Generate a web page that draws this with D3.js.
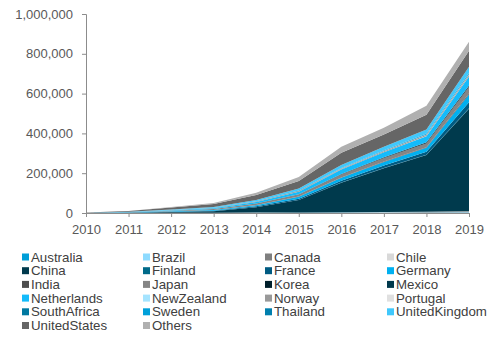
<!DOCTYPE html>
<html>
<head>
<meta charset="utf-8">
<script src="https://cdn.jsdelivr.net/npm/d3@7"></script>
<style>
  body { margin: 0; background: #fff; }
  text { font-family: "Liberation Sans", Arial, sans-serif; }
</style>
</head>
<body>
<script>
var years = [2010, 2011, 2012, 2013, 2014, 2015, 2016, 2017, 2018, 2019];
var yTicks = [0, 200000, 400000, 600000, 800000, 1000000];

// values per country, same order as years
var australia     = [0, 50, 150, 300, 500, 700, 900, 1100, 1300, 1500];
var brazil        = [0, 50, 150, 300, 500, 800, 1000, 1300, 1700, 2000];
var canada        = [50, 150, 300, 400, 700, 1000, 1400, 1800, 2200, 3500];
var chile         = [0, 50, 200, 200, 300, 500, 700, 800, 800, 2000];
var china         = [200, 1000, 4000, 8000, 27000, 62000, 148000, 220000, 285000, 515000];
var finland       = [0, 20, 100, 100, 300, 500, 1000, 1500, 2000, 3000];
var france        = [100, 500, 1500, 2500, 4000, 6000, 9000, 12000, 15000, 30000];
var germany       = [100, 500, 2000, 3500, 6000, 10000, 15000, 18000, 20000, 38000];
var india         = [0, 50, 200, 300, 500, 1000, 1500, 2000, 3000, 5000];
var japan         = [500, 1500, 3000, 4000, 7000, 10000, 15000, 18000, 20000, 35000];
var korea         = [0, 50, 200, 300, 500, 1000, 1500, 2000, 3000, 4000];
var mexico        = [0, 20, 100, 200, 300, 500, 1000, 1500, 2000, 2000];
var netherlands   = [100, 500, 2000, 4000, 8000, 13000, 22000, 25000, 30000, 45000];
var newZealand    = [0, 10, 50, 100, 200, 300, 500, 500, 1000, 1000];
var norway        = [50, 200, 500, 1000, 2000, 3000, 4000, 5000, 6000, 8000];
var portugal      = [0, 10, 50, 100, 200, 300, 500, 500, 1000, 2000];
var southAfrica   = [0, 10, 50, 100, 200, 300, 500, 500, 1000, 1000];
var sweden        = [20, 100, 300, 500, 1000, 1500, 2000, 3000, 3000, 5000];
var thailand      = [0, 10, 50, 100, 200, 300, 500, 500, 1000, 2000];
var unitedKingdom = [100, 1000, 3000, 4000, 6000, 10000, 15000, 18000, 20000, 30000];
var unitedStates  = [1000, 4000, 10000, 15000, 25000, 38000, 62000, 62000, 75000, 80000];
var others        = [100, 500, 2000, 5000, 11000, 20000, 30000, 33000, 45000, 45000];

var seriesNames = ["Australia", "Brazil", "Canada", "Chile", "China", "Finland", "France",
  "Germany", "India", "Japan", "Korea", "Mexico", "Netherlands", "NewZealand", "Norway",
  "Portugal", "SouthAfrica", "Sweden", "Thailand", "UnitedKingdom", "UnitedStates", "Others"];
var seriesValues = [australia, brazil, canada, chile, china, finland, france, germany, india,
  japan, korea, mexico, netherlands, newZealand, norway, portugal, southAfrica, sweden,
  thailand, unitedKingdom, unitedStates, others];
var seriesColors = ["#009ed8", "#8edbff", "#7f7f7f", "#d9d9d9", "#003a4d", "#006a89", "#005b82",
  "#00b0f0", "#4d4d4d", "#858585", "#001f2a", "#00394c", "#14bbfb", "#a5e4ff", "#999999",
  "#e0e0e0", "#0078a0", "#00a0da", "#007fae", "#40c8fc", "#666666", "#b0b0b0"];

var w = 497, h = 343;
var plotLeft = 86, plotRight = 469, plotTop = 14, plotBottom = 213;

var table = years.map(function(y, i) {
  var row = { year: y };
  seriesNames.forEach(function(n, k) { row[n] = seriesValues[k][i]; });
  return row;
});

var xScale = d3.scaleLinear().domain([2010, 2019]).range([plotLeft, plotRight]);
var yScale = d3.scaleLinear().domain([0, 1000000]).range([plotBottom, plotTop]);
var color = d3.scaleOrdinal().domain(seriesNames).range(seriesColors);

var stacked = d3.stack().keys(seriesNames)(table);

var area = d3.area()
  .x(function(d) { return xScale(d.data.year); })
  .y0(function(d) { return yScale(d[0]); })
  .y1(function(d) { return yScale(d[1]); });

var svg = d3.select("body").append("svg")
  .attr("width", w)
  .attr("height", h);

svg.append("g").selectAll("path")
  .data(stacked)
  .enter()
  .append("path")
  .attr("d", area)
  .attr("fill", function(d) { return color(d.key); });

var yAxis = d3.axisLeft(yScale)
  .tickValues(yTicks)
  .tickSize(4)
  .tickPadding(9)
  .tickFormat(d3.format(",d"));

var xAxis = d3.axisBottom(xScale)
  .tickValues(years)
  .tickSize(4)
  .tickPadding(8)
  .tickFormat(d3.format("d"));

var gy = svg.append("g")
  .attr("transform", "translate(" + plotLeft + ",0)")
  .call(yAxis);
var gx = svg.append("g")
  .attr("transform", "translate(0," + plotBottom + ")")
  .call(xAxis);

[gx, gy].forEach(function(g) {
  g.select(".domain").attr("stroke", "#8c8c8c");
  g.selectAll(".tick line").attr("stroke", "#8c8c8c");
  g.selectAll(".tick text")
    .attr("fill", "#595959")
    .style("font-size", "13px")
    .style("font-family", "'Liberation Sans', Arial, sans-serif");
});

// legend
var colX = [22, 143, 265, 387];
var rowY0 = 257, rowH = 13.7;
var legend = svg.append("g").selectAll("g")
  .data(seriesNames)
  .enter()
  .append("g")
  .attr("transform", function(d, i) {
    return "translate(" + colX[i % 4] + "," + (rowY0 + Math.floor(i / 4) * rowH) + ")";
  });

legend.append("rect")
  .attr("x", 0)
  .attr("y", -3.5)
  .attr("width", 7)
  .attr("height", 7)
  .attr("fill", function(d) { return color(d); });

legend.append("text")
  .attr("x", 9)
  .attr("y", 0)
  .attr("dy", "0.35em")
  .attr("fill", "#404040")
  .style("font-size", "13.3px")
  .text(function(d) { return d; });
</script>
</body>
</html>
